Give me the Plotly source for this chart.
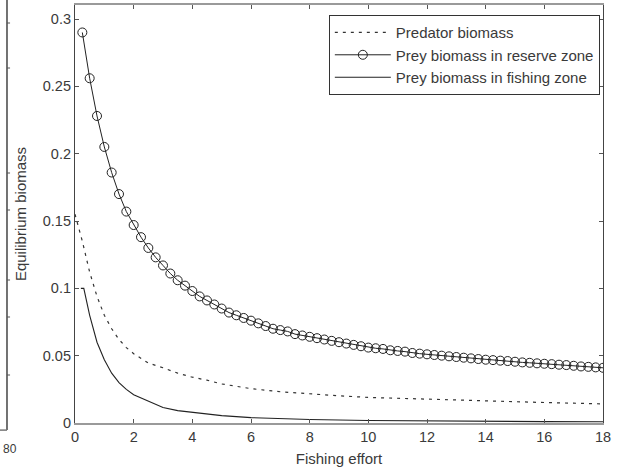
import plotly.graph_objects as go

# ---- data ----
reserve_x = [0.25 * i for i in range(1, 73)]
reserve_y = [0.290, 0.256, 0.228, 0.205, 0.186, 0.170, 0.157, 0.147, 0.138, 0.130,
             0.123, 0.117, 0.111, 0.106, 0.102, 0.098, 0.094, 0.091, 0.088, 0.085,
             0.082, 0.080, 0.078, 0.076, 0.074, 0.072, 0.070, 0.069, 0.068, 0.066,
             0.065, 0.064, 0.063, 0.062, 0.061, 0.060, 0.059, 0.058, 0.057, 0.056,
             0.0555, 0.055, 0.054, 0.0535, 0.053, 0.052, 0.0515, 0.051, 0.0505, 0.050,
             0.0495, 0.049, 0.0485, 0.048, 0.0475, 0.047, 0.0467, 0.0463, 0.046, 0.0455,
             0.045, 0.0447, 0.0443, 0.044, 0.0437, 0.0433, 0.043, 0.0425, 0.042, 0.0417,
             0.0413, 0.041]

predator_x = [0, 0.25, 0.5, 0.75, 1.0, 1.25, 1.5, 1.75, 2.0, 2.5, 3.0, 3.5, 4.0, 4.5,
              5.0, 5.5, 6.0, 7.0, 8.0, 9.0, 10.0, 11.0, 12.0, 13.0, 14.0, 15.0, 16.0,
              17.0, 18.0]
predator_y = [0.155, 0.135, 0.112, 0.094, 0.080, 0.070, 0.062, 0.056, 0.0515, 0.0445,
              0.041, 0.037, 0.034, 0.0318, 0.029, 0.027, 0.0255, 0.0232, 0.0215, 0.0202,
              0.019, 0.0183, 0.0177, 0.017, 0.0163, 0.0157, 0.0152, 0.0147, 0.0142]

fishing_x = [0.2, 0.3, 0.5, 0.75, 1.0, 1.25, 1.5, 1.75, 2.0, 2.5, 3.0, 3.5, 4.0, 5.0,
             6.0, 7.0, 8.0, 10.0, 12.0, 14.0, 16.0, 18.0]
fishing_y = [0.100, 0.100, 0.080, 0.060, 0.047, 0.037, 0.030, 0.025, 0.021, 0.016,
             0.0115, 0.0092, 0.0078, 0.0055, 0.0040, 0.0031, 0.0026, 0.0019, 0.0015,
             0.0012, 0.0010, 0.0009]

x_ticks = [0, 2, 4, 6, 8, 10, 12, 14, 16, 18]
y_ticks = [0, 0.05, 0.1, 0.15, 0.2, 0.25, 0.3]
y_tick_text = ["0", "0.05", "0.1", "0.15", "0.2", "0.25", "0.3"]

FONT = "Liberation Sans, Arial, sans-serif"
TXT = "#3a3a3a"

fig = go.Figure()
fig.add_trace(go.Scatter(
    x=predator_x, y=predator_y, mode="lines", name="Predator biomass",
    line=dict(color="#333333", width=1.2, dash="3px,5px")))
fig.add_trace(go.Scatter(
    x=reserve_x, y=reserve_y, mode="lines+markers", name="Prey biomass in reserve zone",
    line=dict(color="#222222", width=1),
    marker=dict(symbol="circle-open", size=9, color="#222222", line=dict(width=1))))
fig.add_trace(go.Scatter(
    x=fishing_x, y=fishing_y, mode="lines", name="Prey biomass in fishing zone",
    line=dict(color="#222222", width=1.1)))

axis_common = dict(showgrid=False, zeroline=False, showline=True,
                   mirror="allticks", ticks="inside", ticklen=4,
                   tickcolor="#555555", tickfont=dict(family=FONT, size=14.5, color=TXT))

fig.update_xaxes(range=[0, 18], tickvals=x_ticks, linecolor="#9a9a9a", linewidth=1.5,
                 title=dict(text="Fishing effort", font=dict(family=FONT, size=15, color=TXT),
                            standoff=9),
                 **axis_common)
fig.update_yaxes(range=[0, 0.3104], tickvals=y_ticks, ticktext=y_tick_text,
                 linecolor="#444444", linewidth=1.2,
                 title=dict(text="Equilibrium biomass", font=dict(family=FONT, size=15, color=TXT),
                            standoff=12),
                 **axis_common)

# fragment of the neighbouring panel visible at the left edge
shapes = [dict(type="line", xref="paper", yref="paper", x0=-0.1288, x1=-0.1288,
               y0=1.02, y1=-0.017, line=dict(color="#444444", width=1.5)),
          dict(type="line", xref="paper", yref="paper", x0=-0.145, x1=-0.1288,
               y0=-0.017, y1=-0.017, line=dict(color="#777777", width=1.5))]
for py in [23, 68, 173, 210, 280, 317, 375]:
    yp = (423 - py) / 418
    shapes.append(dict(type="line", xref="paper", yref="paper", x0=-0.1288, x1=-0.1230,
                       y0=yp, y1=yp, line=dict(color="#555555", width=1)))
fig.update_layout(shapes=shapes)
fig.add_annotation(xref="paper", yref="paper", x=-0.1402, y=-0.040, xanchor="left",
                   yanchor="top", text="80", showarrow=False,
                   font=dict(family=FONT, size=12, color=TXT))

fig.update_layout(
    width=617, height=472,
    margin=dict(l=75, r=14, t=5, b=49, autoexpand=False),
    paper_bgcolor="white", plot_bgcolor="white",
    showlegend=True,
    legend=dict(x=0.994, y=0.976, xanchor="right", yanchor="top",
                bgcolor="white", bordercolor="#333333", borderwidth=1,
                font=dict(family=FONT, size=15, color=TXT),
                tracegroupgap=0, itemwidth=56),
)

fig.write_html("out.html")
